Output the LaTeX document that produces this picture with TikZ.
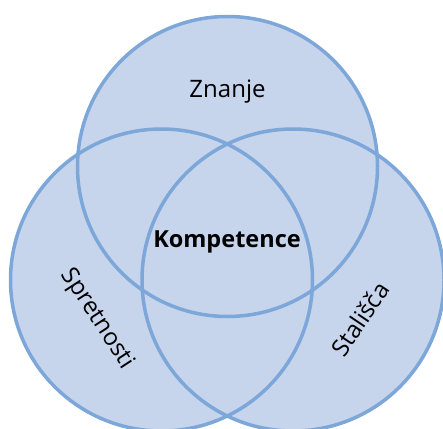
\documentclass[tikz,border=0pt]{standalone}
\usepackage{fontspec}
\setmainfont{Open Sans}
\definecolor{vfill}{HTML}{C6D4EC}
\definecolor{vline}{HTML}{7DA7D9}
\begin{document}
\begin{tikzpicture}[x=1pt,y=-1pt,
  ring/.style={draw=vline,line width=3.5pt},
  lbl/.style={inner sep=0pt,font=\fontsize{24}{28}\selectfont,text=black}]
\useasboundingbox (0,0) rectangle (443,428);
\clip (0,0) rectangle (443,428);
\coordinate (ct) at (227.5,166.5);
\coordinate (cl) at (161.5,280);
\coordinate (cr) at (293,280);
\fill[vfill] (ct) circle[radius=150] (cl) circle[radius=151] (cr) circle[radius=151];
\draw[ring] (ct) circle[radius=150];
\draw[ring] (cl) circle[radius=151];
\draw[ring] (cr) circle[radius=151];
\node[lbl] (zn) at (227.5,92) {Znanje};
\node[lbl,font=\fontsize{23.5}{28}\selectfont\bfseries] (ko) at (227,242) {Kompetence};
\node[lbl,rotate=-57] (sp) at (97,319) {Spretnosti};
\node[lbl,rotate=56] (st) at (360,319) {Stališča};
\end{tikzpicture}
\end{document}
